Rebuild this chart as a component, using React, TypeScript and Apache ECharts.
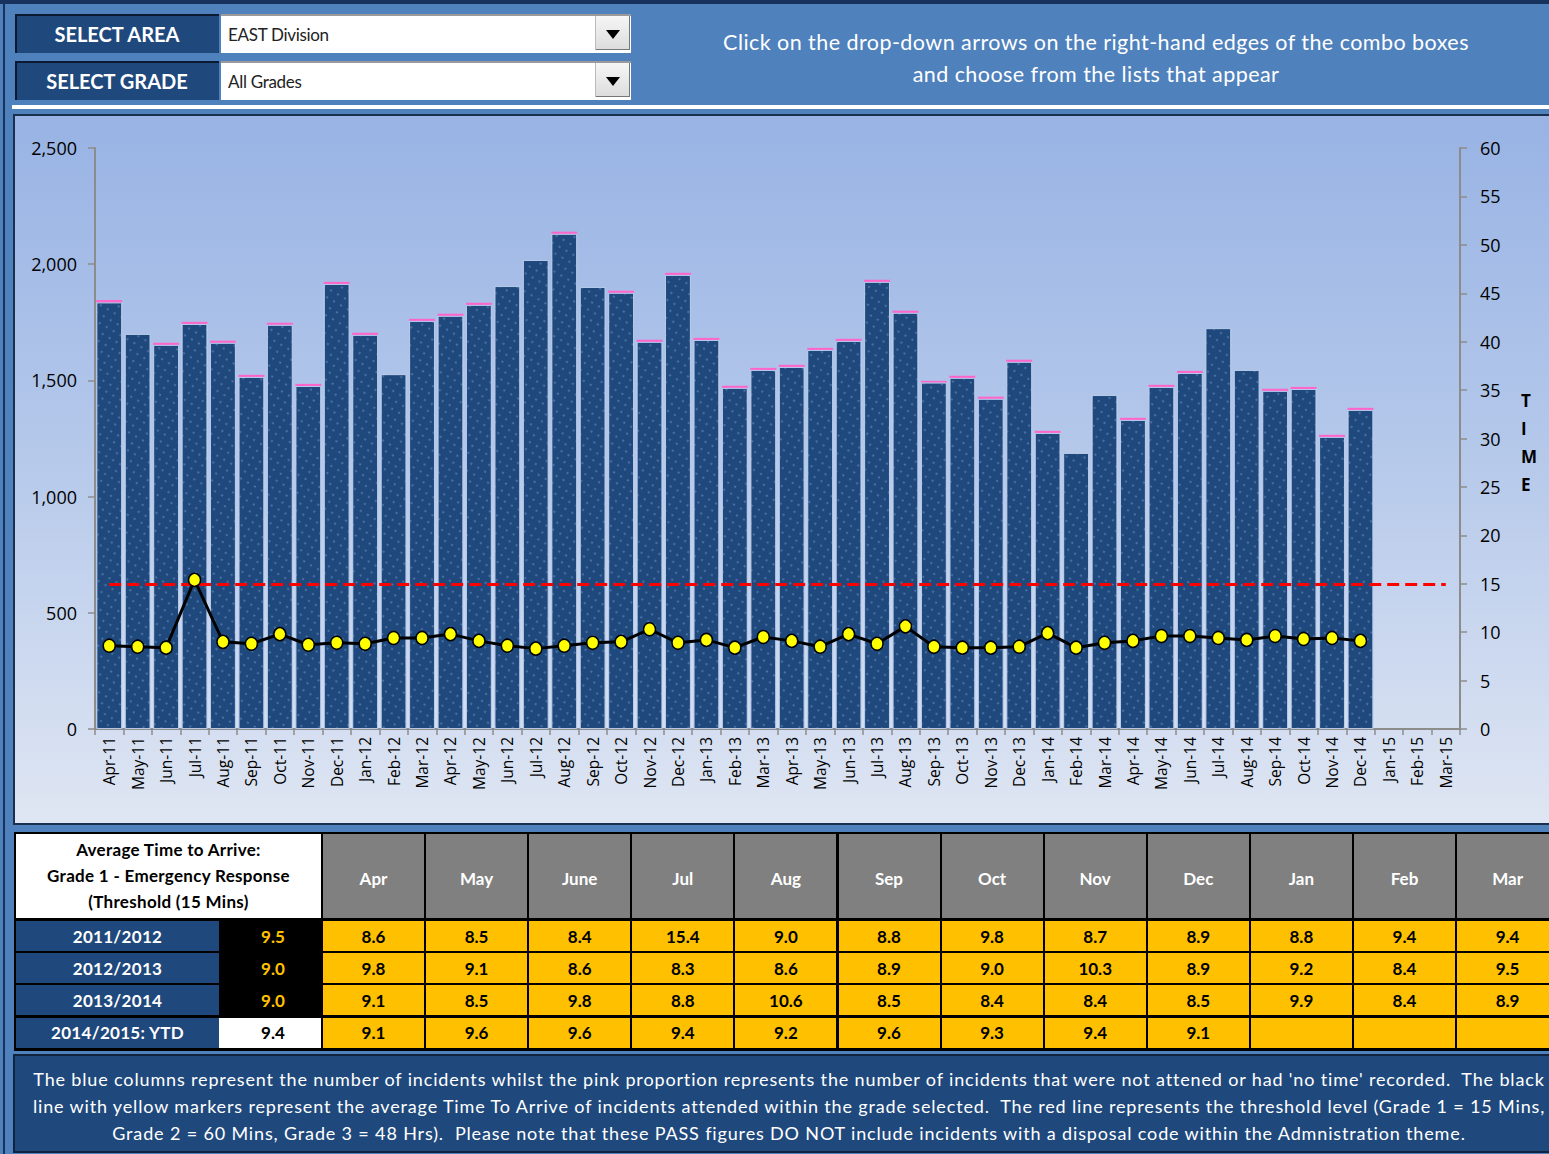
import React, { useEffect, useRef } from "react";
import * as echarts from "echarts";

// ---------- DATA ----------
const MONTHS = [
  "Apr-11","May-11","Jun-11","Jul-11","Aug-11","Sep-11","Oct-11","Nov-11","Dec-11","Jan-12","Feb-12","Mar-12",
  "Apr-12","May-12","Jun-12","Jul-12","Aug-12","Sep-12","Oct-12","Nov-12","Dec-12","Jan-13","Feb-13","Mar-13",
  "Apr-13","May-13","Jun-13","Jul-13","Aug-13","Sep-13","Oct-13","Nov-13","Dec-13","Jan-14","Feb-14","Mar-14",
  "Apr-14","May-14","Jun-14","Jul-14","Aug-14","Sep-14","Oct-14","Nov-14","Dec-14","Jan-15","Feb-15","Mar-15",
];

// incidents attended (blue columns)
const ATTENDED = [
  1836, 1700, 1653, 1743, 1662, 1515, 1739, 1476, 1915, 1696, 1527, 1756,
  1778, 1825, 1906, 2018, 2131, 1902, 1877, 1666, 1954, 1674, 1468, 1545,
  1558, 1631, 1670, 1924, 1791, 1491, 1511, 1421, 1580, 1274, 1188, 1437,
  1330, 1472, 1532, 1725, 1545, 1455, 1463, 1257, 1373,
];

// incidents not attended / no time recorded (pink tops)
const NO_TIME = [
  10, 0, 9, 9, 9, 9, 9, 9, 9, 9, 0, 9,
  9, 9, 0, 0, 9, 0, 9, 9, 9, 9, 9, 9,
  9, 9, 9, 9, 9, 7, 9, 9, 9, 9, 0, 0,
  9, 9, 9, 0, 0, 9, 9, 9, 9,
];

const THRESHOLD = 15;

const TABLE_MONTHS = ["Apr","May","June","Jul","Aug","Sep","Oct","Nov","Dec","Jan","Feb","Mar"];
const YEARS = ["2011/2012", "2012/2013", "2013/2014", "2014/2015: YTD"];
const YEAR_AVG = ["9.5", "9.0", "9.0", "9.4"];
const TTA_2011 = [8.6, 8.5, 8.4, 15.4, 9.0, 8.8, 9.8, 8.7, 8.9, 8.8, 9.4, 9.4];
const TTA_2012 = [9.8, 9.1, 8.6, 8.3, 8.6, 8.9, 9.0, 10.3, 8.9, 9.2, 8.4, 9.5];
const TTA_2013 = [9.1, 8.5, 9.8, 8.8, 10.6, 8.5, 8.4, 8.4, 8.5, 9.9, 8.4, 8.9];
const TTA_2014 = [9.1, 9.6, 9.6, 9.4, 9.2, 9.6, 9.3, 9.4, 9.1];
const TTA_ROWS = [TTA_2011, TTA_2012, TTA_2013, TTA_2014];

const LEFT_TICKS = { min: 0, max: 2500, interval: 500 };
const RIGHT_TICKS = { min: 0, max: 60, interval: 5 };

const FOOTER_LINES = [
  "The blue columns represent the number of incidents whilst the pink proportion represents the number of incidents that were not attened or had 'no time' recorded.  The black",
  "line with yellow markers represent the average Time To Arrive of incidents attended within the grade selected.  The red line represents the threshold level (Grade 1 = 15 Mins,",
  "Grade 2 = 60 Mins, Grade 3 = 48 Hrs).  Please note that these PASS figures DO NOT include incidents with a disposal code within the Admnistration theme.",
];

const NAVY = "#1f497d";
const FONT = "Lato, 'Open Sans', sans-serif";

function Chart() {
  const ref = useRef<HTMLDivElement>(null);
  useEffect(() => {
    if (!ref.current) return;
    const chart = echarts.init(ref.current, undefined, { renderer: "svg" });
    const line = ([] as number[]).concat(...TTA_ROWS);
    const axisColor = "#8c8c8c";
    chart.setOption({
      animation: false,
      aria: { enabled: true, decal: { show: true } },
      textStyle: { fontFamily: "'Open Sans', sans-serif" },
      grid: { left: 80, top: 32, width: 1365, height: 581 },
      xAxis: {
        type: "category",
        data: MONTHS,
        boundaryGap: true,
        axisLine: { lineStyle: { color: axisColor, width: 2 } },
        axisTick: { show: true, length: 6, lineStyle: { color: axisColor, width: 1.5 } },
        axisLabel: { rotate: 90, interval: 0, fontSize: 15.5, color: "#000", margin: 8 },
        splitLine: { show: false },
      },
      yAxis: [
        {
          type: "value",
          ...LEFT_TICKS,
          axisLine: { show: true, lineStyle: { color: axisColor, width: 2 } },
          axisTick: { show: true, length: 7, lineStyle: { color: axisColor, width: 1.5 } },
          axisLabel: {
            fontSize: 18, color: "#000", margin: 18,
            formatter: (v: number) => v.toLocaleString("en-US"),
          },
          splitLine: { show: false },
        },
        {
          type: "value",
          position: "right",
          ...RIGHT_TICKS,
          axisLine: { show: true, lineStyle: { color: axisColor, width: 2 } },
          axisTick: { show: true, length: 7, lineStyle: { color: axisColor, width: 1.5 } },
          axisLabel: { fontSize: 18, color: "#000", margin: 20 },
          splitLine: { show: false },
        },
      ],
      graphic: [
        {
          type: "text",
          left: 1506,
          top: 270,
          style: {
            text: "T\nI\nM\nE",
            fontSize: 17,
            fontWeight: "bold",
            fill: "#000",
            lineHeight: 28,
            align: "center",
            fontFamily: "'Open Sans', sans-serif",
          },
        },
      ],
      series: [
        {
          type: "bar",
          stack: "inc",
          data: ATTENDED,
          barCategoryGap: "9%",
          itemStyle: {
            color: NAVY,
            borderColor: "rgba(190,208,238,0.7)",
            borderWidth: 1,
            decal: {
              symbol: "circle",
              symbolSize: 1,
              color: "rgba(140,172,225,0.45)",
              dashArrayX: [2, 6],
              dashArrayY: [2, 6],
            },
          },
        },
        {
          type: "bar",
          stack: "inc",
          data: NO_TIME,
          itemStyle: {
            color: "#ff66cc",
            decal: { symbol: "rect", color: "rgba(0,0,0,0)" },
          },
        },
        {
          type: "line",
          yAxisIndex: 1,
          data: line,
          z: 5,
          symbol: "circle",
          symbolSize: [12, 13],
          showAllSymbol: true,
          lineStyle: { color: "#000", width: 3 },
          itemStyle: {
            color: "#ffff00",
            borderColor: "#000",
            borderWidth: 1.5,
            decal: { symbol: "rect", color: "rgba(0,0,0,0)" },
          },
          markLine: {
            silent: true,
            symbol: ["none", "none"],
            label: { show: false },
            lineStyle: { color: "#ff0000", width: 3, type: [12, 6] },
            data: [
              [
                { coord: [MONTHS[0], THRESHOLD] },
                { coord: [MONTHS[MONTHS.length - 1], THRESHOLD] },
              ],
            ],
          },
        },
      ],
    });
    return () => chart.dispose();
  }, []);
  return <div ref={ref} style={{ position: "absolute", left: 0, top: 0, width: 1533, height: 708 }} />;
}

function Combo({ top, label, value }: { top: number; label: string; value: string }) {
  return (
    <>
      <div
        style={{
          position: "absolute", left: 15, top, width: 204, height: 39, background: NAVY,
          color: "#fff", fontWeight: 700, fontSize: 20, display: "flex", alignItems: "center",
          justifyContent: "center", boxShadow: "inset 2px 2px 0 #0b1a30", fontFamily: FONT,
        }}
      >
        {label}
      </div>
      <div
        style={{
          position: "absolute", left: 221, top, width: 410, height: 39, background: "#fff",
          boxShadow: "inset 0 2px 0 #9a9a9a", fontFamily: FONT,
        }}
      >
        <div style={{ position: "absolute", left: 7, top: 10, fontSize: 17, color: "#222", letterSpacing: -0.3 }}>{value}</div>
        <div
          style={{
            position: "absolute", right: 1, top: 2, width: 34, height: 34,
            background: "linear-gradient(#f6f6f6,#dcdcdc)", borderLeft: "1px solid #bbb",
            boxShadow: "inset -1px -1px 0 #777",
          }}
        >
          <div
            style={{
              position: "absolute", left: 10, top: 14, width: 0, height: 0,
              borderLeft: "7px solid transparent", borderRight: "7px solid transparent",
              borderTop: "9px solid #000",
            }}
          />
        </div>
      </div>
    </>
  );
}

export default function App() {
  const colX = (i: number) => 323 + i * 103.1;
  const rowY = (r: number) => 921 + r * 32.2;
  return (
    <div
      style={{
        position: "absolute", left: 0, top: 0, width: 1549, height: 1154, overflow: "hidden",
        background: "#4f81bd", fontFamily: FONT,
      }}
    >
      {/* frame lines */}
      <div style={{ position: "absolute", left: 0, top: 0, width: 1549, height: 4, background: "#17325c" }} />
      <div style={{ position: "absolute", left: 3, top: 0, width: 2, height: 1154, background: "#17325c" }} />

      {/* header */}
      <Combo top={14} label="SELECT AREA" value="EAST Division" />
      <Combo top={61} label="SELECT GRADE" value="All Grades" />
      <div
        style={{
          position: "absolute", left: 640, top: 26, width: 912, textAlign: "center",
          color: "#fff", fontSize: 21.5, lineHeight: "32px", letterSpacing: 0.45,
        }}
      >
        Click on the drop-down arrows on the right-hand edges of the combo boxes
        <br />
        and choose from the lists that appear
      </div>
      <div style={{ position: "absolute", left: 12, top: 105, width: 1540, height: 4, background: "#fff" }} />

      {/* chart box */}
      <div
        style={{
          position: "absolute", left: 13, top: 114, width: 1540, height: 711,
          border: "2px solid #1b2f4f", boxSizing: "border-box",
          background: "linear-gradient(to bottom, #98b3e4 0%, #b3c7ea 45%, #dfe6f3 100%)",
        }}
      >
        <Chart />
      </div>

      {/* table */}
      <div style={{ position: "absolute", left: 14, top: 832, width: 1540, height: 219, background: "#000" }} />
      <div
        style={{
          position: "absolute", left: 16, top: 834, width: 305, height: 84, background: "#fff",
          display: "flex", flexDirection: "column", justifyContent: "center", alignItems: "center",
          fontWeight: 700, fontSize: 17, lineHeight: "26px", color: "#000", letterSpacing: 0.3,
        }}
      >
        <div>Average Time to Arrive:</div>
        <div>Grade 1 - Emergency Response</div>
        <div>(Threshold (15 Mins)</div>
      </div>
      {TABLE_MONTHS.map((m, i) => (
        <div
          key={m}
          style={{
            position: "absolute", left: colX(i), top: 834, width: 101, height: 84, background: "#808080",
            color: "#fff", fontWeight: 700, fontSize: 17, display: "flex", alignItems: "center", justifyContent: "center",
            paddingTop: 4, boxSizing: "border-box",
          }}
        >
          {m}
        </div>
      ))}
      {YEARS.map((y, r) => (
        <React.Fragment key={y}>
          <div
            style={{
              position: "absolute", left: 16, top: rowY(r), width: 203, height: 30, background: NAVY,
              color: "#fff", fontWeight: 700, fontSize: 17, display: "flex", alignItems: "center", justifyContent: "center",
              letterSpacing: 0.3,
            }}
          >
            {y}
          </div>
          <div
            style={{
              position: "absolute", left: 219, top: rowY(r), width: 102, height: 30,
              background: r === 3 ? "#fff" : "#000", color: r === 3 ? "#000" : "#ffc000",
              fontWeight: 700, fontSize: 17, display: "flex", alignItems: "center", justifyContent: "center",
              paddingLeft: 6, boxSizing: "border-box",
            }}
          >
            {YEAR_AVG[r]}
          </div>
          {TABLE_MONTHS.map((m, i) => (
            <div
              key={m}
              style={{
                position: "absolute", left: colX(i), top: rowY(r), width: 101, height: 30, background: "#ffc000",
                color: "#000", fontWeight: 700, fontSize: 17, display: "flex", alignItems: "center", justifyContent: "center",
              }}
            >
              {TTA_ROWS[r][i] !== undefined ? TTA_ROWS[r][i].toFixed(1) : ""}
            </div>
          ))}
        </React.Fragment>
      ))}

      {/* footer */}
      <div
        style={{
          position: "absolute", left: 13, top: 1054, width: 1545, height: 99, background: NAVY,
          border: "2px solid #10233f", boxSizing: "border-box", overflow: "hidden",
        }}
      >
        {FOOTER_LINES.map((t, i) => (
          <div
            key={i}
            style={{
              position: "absolute", left: 774 - 1000, width: 2000, top: 10 + i * 27, textAlign: "center",
              whiteSpace: "pre", color: "#fff", fontSize: 18, lineHeight: "27px", letterSpacing: 0.85,
            }}
          >
            {t}
          </div>
        ))}
      </div>
    </div>
  );
}
